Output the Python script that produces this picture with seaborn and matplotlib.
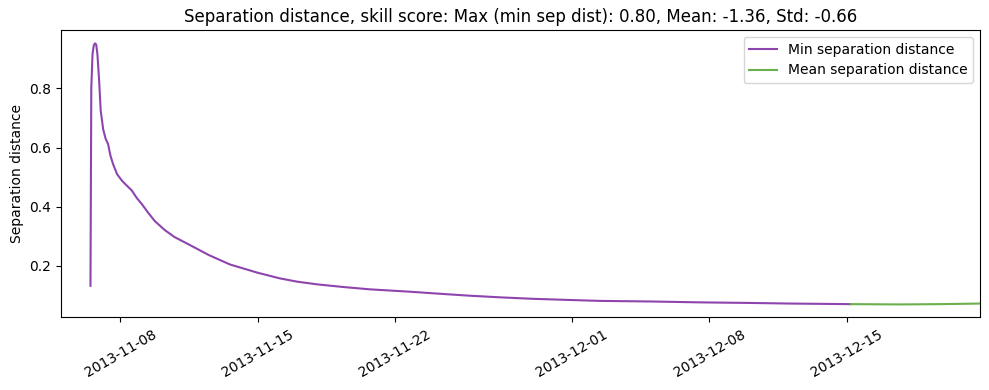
import matplotlib
matplotlib.use("Agg")
import matplotlib.pyplot as plt
import matplotlib.dates as mdates
from matplotlib.ticker import FixedLocator
import seaborn as sns
import pandas as pd

# Min separation distance series
min_times = [
    "2013-11-06 11:30", "2013-11-06 12:30", "2013-11-06 14:00", "2013-11-06 15:30",
    "2013-11-06 17:00", "2013-11-06 18:30", "2013-11-06 20:00", "2013-11-06 22:00",
    "2013-11-07 00:00", "2013-11-07 03:00", "2013-11-07 06:00", "2013-11-07 09:00",
    "2013-11-07 12:00", "2013-11-07 15:00", "2013-11-07 20:00", "2013-11-08 02:00",
    "2013-11-08 07:00", "2013-11-08 14:00", "2013-11-08 20:00", "2013-11-09 02:00",
    "2013-11-09 10:00", "2013-11-09 18:00", "2013-11-10 06:00", "2013-11-10 18:00",
    "2013-11-11 19:00", "2013-11-12 12:00", "2013-11-13 14:00", "2013-11-15 00:00",
    "2013-11-16 03:00", "2013-11-17 00:00", "2013-11-18 00:00", "2013-11-19 08:00",
    "2013-11-20 17:00", "2013-11-22 18:00", "2013-11-24 07:00", "2013-11-25 16:00",
    "2013-11-27 08:00", "2013-11-29 00:00", "2013-11-30 22:00", "2013-12-02 10:00",
    "2013-12-04 23:30", "2013-12-07 12:30", "2013-12-10 02:00", "2013-12-12 02:30",
    "2013-12-13 15:30", "2013-12-15 05:00",
]
min_values = [
    0.133, 0.800, 0.915, 0.945,
    0.952, 0.948, 0.915, 0.830,
    0.725, 0.662, 0.630, 0.612,
    0.572, 0.545, 0.510, 0.488,
    0.474, 0.455, 0.430, 0.410,
    0.380, 0.352, 0.322, 0.298,
    0.262, 0.237, 0.205, 0.177,
    0.158, 0.147, 0.138, 0.129,
    0.121, 0.113, 0.106, 0.100,
    0.094, 0.089, 0.085, 0.082,
    0.080, 0.077, 0.075, 0.073,
    0.072, 0.071,
]

# Mean separation distance series
mean_times = ["2013-12-15 05:00", "2013-12-17 17:00", "2013-12-19 18:00", "2013-12-21 19:00"]
mean_values = [0.071, 0.070, 0.071, 0.073]

tick_dates = ["2013-11-08", "2013-11-15", "2013-11-22", "2013-12-01", "2013-12-08", "2013-12-15"]
x_range = ["2013-11-04 23:30", "2013-12-21 19:00"]

df_min = pd.DataFrame({"time": pd.to_datetime(min_times), "value": min_values})
df_mean = pd.DataFrame({"time": pd.to_datetime(mean_times), "value": mean_values})

fig, ax = plt.subplots(figsize=(9.89, 3.9), dpi=100)
fig.subplots_adjust(left=0.0617, right=0.991, top=0.923, bottom=0.186)

sns.lineplot(data=df_min, x="time", y="value", ax=ax, color="#8e44ad", lw=1.5,
             label="Min separation distance")
sns.lineplot(data=df_mean, x="time", y="value", ax=ax, color="#6ab04c", lw=1.5,
             label="Mean separation distance")

ax.set_xlim(pd.to_datetime(x_range[0]), pd.to_datetime(x_range[1]))
ax.set_ylim(0.026, 0.997)
ax.set_yticks([0.2, 0.4, 0.6, 0.8])
ax.xaxis.set_major_locator(FixedLocator(mdates.date2num(pd.to_datetime(tick_dates))))
ax.xaxis.set_major_formatter(mdates.DateFormatter("%Y-%m-%d"))
plt.setp(ax.get_xticklabels(), rotation=30)
ax.set_xlabel("")
ax.set_ylabel("Separation distance")
ax.set_title("Separation distance, skill score: Max (min sep dist): 0.80, Mean: -1.36, Std: -0.66")
ax.legend(loc="upper right")

fig.savefig("out.png", dpi=100)
